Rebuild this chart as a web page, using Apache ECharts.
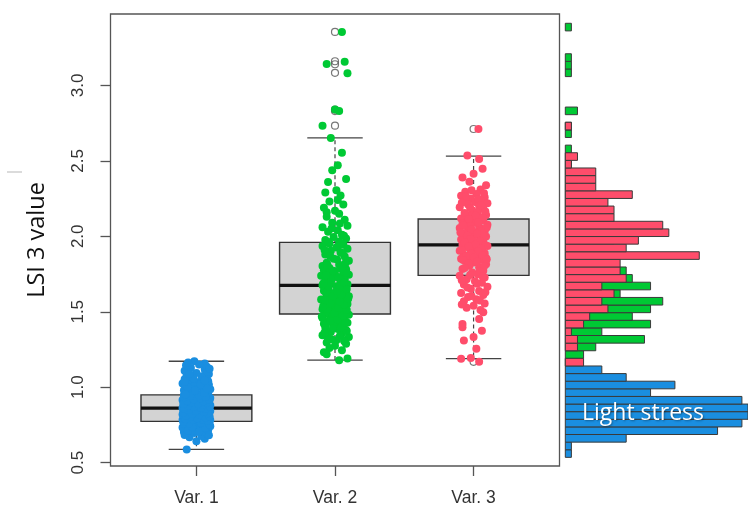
<!DOCTYPE html>
<html><head><meta charset="utf-8">
<script src="https://cdn.jsdelivr.net/npm/echarts@6/dist/echarts.min.js"></script>
<style>html,body{margin:0;padding:0;background:#fff}#c{width:748px;height:507px}</style>
</head><body><div id="c"></div>
<script>
const categories = ['Var. 1', 'Var. 2', 'Var. 3'];
const yTicks = [0.5, 1.0, 1.5, 2.0, 2.5, 3.0];
const yTickLabels = ['0.5', '1.0', '1.5', '2.0', '2.5', '3.0'];
const groupColors = ['#1a8ee0', '#00c934', '#ff4d6b'];

// [lower whisker, Q1, median, Q3, upper whisker]
const boxVar1 = [0.588, 0.774, 0.861, 0.949, 1.172];
const boxVar2 = [1.179, 1.485, 1.675, 1.960, 2.652];
const boxVar3 = [1.189, 1.741, 1.943, 2.115, 2.531];

const outVar2 = [3.354, 3.160, 3.140, 3.083, 2.840, 2.830, 2.733];
const outVar3 = [2.711, 1.168];

// jittered points: [jitter offset, value]
const var1Pts = [[-0.07,0.588],[0.06,0.658],[0.00,0.642],
[-0.05,0.668],[0.035,0.676],[-0.085,0.684],[0.075,0.692],[-0.015,0.697],[0.09,0.681],
[-0.09,0.703],[0.04,0.707],[-0.035,0.711],[0.085,0.716],[-0.07,0.719],[0.015,0.722],[0.07,0.726],[-0.01,0.729],[-0.1,0.733],[0.05,0.736],[-0.05,0.739],[0.1,0.742],[0.025,0.744],[-0.075,0.747],[0.0,0.749],
[0.075,0.752],[-0.025,0.755],[-0.09,0.757],[0.04,0.760],[0.09,0.763],[-0.06,0.766],[0.01,0.768],[-0.085,0.771],[0.06,0.774],[-0.04,0.777],[0.025,0.779],[0.1,0.782],[-0.1,0.785],[-0.01,0.788],[0.05,0.791],[-0.07,0.793],[0.085,0.796],[-0.035,0.798],
[0.015,0.801],[-0.085,0.804],[0.07,0.806],[-0.05,0.809],[0.09,0.812],[-0.015,0.815],[0.035,0.817],[-0.1,0.820],[0.06,0.823],[-0.07,0.826],[0.0,0.828],[0.085,0.831],[-0.035,0.834],[0.04,0.837],[-0.09,0.840],[0.1,0.843],[-0.06,0.846],[0.025,0.848],
[-0.075,0.851],[0.075,0.853],[-0.01,0.856],[0.05,0.859],[-0.1,0.862],[0.09,0.864],[-0.04,0.867],[0.015,0.870],[-0.07,0.873],[0.07,0.876],[-0.025,0.878],[0.1,0.881],[-0.085,0.884],[0.035,0.887],[-0.05,0.890],[0.085,0.892],[0.0,0.895],[-0.09,0.898],
[0.06,0.901],[-0.035,0.903],[0.09,0.906],[-0.075,0.909],[0.01,0.912],[-0.1,0.915],[0.04,0.917],[-0.05,0.920],[0.075,0.923],[-0.015,0.926],[0.1,0.929],[-0.085,0.931],[0.025,0.934],[-0.06,0.937],[0.07,0.940],[-0.01,0.943],[0.085,0.945],[-0.09,0.948],
[0.035,0.953],[-0.07,0.958],[0.085,0.963],[-0.025,0.969],[0.05,0.974],[-0.09,0.980],[0.1,0.986],[0.0,0.991],[-0.05,0.997],
[0.07,1.003],[-0.075,1.007],[0.015,1.012],[0.09,1.016],[-0.04,1.021],[-0.1,1.025],[0.05,1.030],[-0.01,1.034],[0.085,1.039],[-0.06,1.043],[0.035,1.048],
[-0.085,1.053],[0.075,1.060],[-0.025,1.066],[0.04,1.073],[-0.07,1.080],[0.09,1.087],[0.0,1.094],
[-0.085,1.109],[0.06,1.118],[-0.04,1.127],[0.075,1.136],[-0.075,1.145],
[0.06,1.157],[-0.015,1.172],
[0.02,0.705],[-0.06,0.713],[0.065,0.731],[-0.03,0.737],[0.095,0.751],[-0.055,0.759],[0.03,0.765],[-0.095,0.770],[0.08,0.778],[-0.02,0.783],[0.045,0.786],[-0.08,0.790],[0.005,0.795],[0.065,0.799],[-0.045,0.803],[0.095,0.808],[-0.075,0.813],[0.02,0.819],[-0.03,0.825],[0.08,0.827],[-0.095,0.832],[0.055,0.839],[-0.005,0.842],[-0.055,0.849],[0.065,0.855],[-0.09,0.858],[0.03,0.863],[-0.02,0.869],[0.095,0.872],[-0.06,0.877],[0.045,0.882],[-0.095,0.888],[0.01,0.891],[0.075,0.897],[-0.04,0.900],[0.05,0.907],[-0.065,0.911],[0.095,0.916],[-0.02,0.921],[0.03,0.927],[-0.09,0.933],[0.065,0.936],[-0.045,0.942],[0.02,0.947],[-0.08,0.952],[0.055,0.961],[-0.01,0.978],[0.075,0.993],[-0.065,1.001],[0.03,1.019],[-0.085,1.037],[0.06,1.045],[-0.02,1.057],[0.08,1.102],[-0.05,1.088],[0.095,1.122],[0.02,1.150],[-0.06,1.163]];

const var2Pts = [[0.05,3.354],[-0.06,3.142],[0.07,3.157],[0.09,3.080],[0.0,2.840],[0.03,2.830],[-0.09,2.733],
[-0.03,2.652],[0.05,2.553],[0.02,2.470],[-0.02,2.437],[0.08,2.380],[-0.05,2.360],[0.01,2.305],[-0.07,2.290],[0.04,2.270],[-0.04,2.230],[0.06,2.210],[-0.08,2.190],[0.0,2.170],[0.03,2.150],[-0.06,2.130],[0.07,2.110],[-0.02,2.090],[0.09,2.070],[-0.09,2.060],[0.02,2.040],[-0.05,2.030],[0.05,2.010],[-0.01,1.995],[0.08,1.985],[-0.07,1.975],[0.03,1.965],
[-0.04,1.952],[0.06,1.944],[-0.09,1.935],[0.01,1.926],[0.09,1.917],[-0.03,1.905],[0.04,1.893],[-0.07,1.880],[0.07,1.866],[-0.01,1.852],[0.1,1.838],[-0.06,1.825],[0.03,1.812],[-0.09,1.803],
[0.05,1.797],[-0.04,1.790],[0.08,1.782],[-0.08,1.775],[0.0,1.768],[0.06,1.760],[-0.05,1.752],[0.1,1.745],[-0.1,1.738],[0.02,1.731],[-0.02,1.723],[0.07,1.715],[-0.07,1.707],[0.04,1.699],[-0.03,1.691],[0.09,1.683],[-0.09,1.676],[0.01,1.669],[0.06,1.661],[-0.05,1.654],
[0.03,1.646],[-0.08,1.639],[0.08,1.632],[-0.01,1.625],[0.05,1.617],[-0.06,1.610],[0.1,1.602],[-0.03,1.595],[0.02,1.588],[-0.1,1.581],[0.07,1.574],[-0.05,1.566],[0.0,1.559],[0.09,1.552],[-0.07,1.545],[0.04,1.538],[-0.02,1.531],[0.06,1.523],[-0.09,1.516],[0.01,1.509],[0.08,1.503],[-0.04,1.500],
[0.05,1.494],[-0.06,1.487],[0.1,1.480],[-0.02,1.472],[0.03,1.465],[-0.09,1.458],[0.07,1.450],[-0.04,1.443],[0.0,1.436],[0.09,1.428],[-0.08,1.421],[0.04,1.414],[-0.01,1.407],[0.06,1.401],
[-0.07,1.395],[0.02,1.386],[0.08,1.377],[-0.03,1.366],[0.05,1.355],[-0.09,1.344],[0.1,1.333],[-0.05,1.322],[0.01,1.312],[0.07,1.303],
[-0.06,1.296],[0.08,1.288],[0.0,1.275],[-0.04,1.260],[0.05,1.245],[-0.08,1.232],[-0.06,1.218],[0.09,1.190],[0.03,1.179],
[0.065,1.308],[-0.025,1.318],[0.035,1.339],[-0.075,1.362],[0.085,1.372],[-0.015,1.389],[0.045,1.398],[-0.065,1.412],[0.075,1.425],[-0.035,1.439],[0.015,1.447],[-0.095,1.468],[0.055,1.476],[-0.005,1.491],[0.085,1.512],[-0.055,1.520],[0.025,1.527],[-0.085,1.536],[0.065,1.548],[-0.035,1.556],[0.035,1.570],[-0.075,1.578],[0.095,1.586],[-0.015,1.605],[0.045,1.613],[-0.065,1.628],[0.015,1.637],[0.085,1.650],[-0.045,1.665],[0.035,1.673],[-0.085,1.688],[0.065,1.695],[-0.025,1.712],[0.025,1.727],[-0.065,1.742],[0.085,1.757],[-0.015,1.771],[0.045,1.786],[-0.055,1.810],[0.075,1.822],[0.015,1.847],[-0.035,1.870],[0.055,1.889],[-0.075,1.910],[0.025,1.938],[-0.045,1.962],[0.065,2.003],[-0.025,2.052],[0.035,2.085],[-0.06,2.160],[0.02,2.240]];

const var3Pts = [[0.035,2.711],
[-0.045,2.535],[0.04,2.513],[0.065,2.448],[-0.08,2.390],[0.0,2.415],[0.09,2.338],[-0.03,2.362],[0.05,2.310],[-0.06,2.295],[0.02,2.280],[-0.09,2.268],[0.08,2.258],[-0.02,2.250],
[0.06,2.243],[-0.07,2.236],[0.01,2.228],[0.1,2.219],[-0.04,2.210],[0.04,2.201],[-0.1,2.192],[0.07,2.183],[-0.01,2.172],[0.03,2.160],
[-0.06,2.148],[0.09,2.141],[-0.03,2.133],[0.05,2.126],[-0.09,2.118],[0.0,2.111],[0.07,2.104],[-0.05,2.097],[0.02,2.090],[-0.08,2.083],[0.1,2.076],[-0.02,2.069],[0.04,2.062],[-0.1,2.055],[0.06,2.048],[-0.04,2.041],[0.08,2.034],[0.01,2.027],[-0.07,2.020],[0.03,2.013],[-0.01,2.006],
[0.09,1.999],[-0.06,1.992],[0.05,1.985],[-0.09,1.978],[0.0,1.971],[0.07,1.964],[-0.03,1.957],[0.03,1.950],[-0.08,1.943],[0.1,1.936],[-0.05,1.929],[0.01,1.921],[0.06,1.913],[-0.1,1.905],[-0.02,1.896],[0.08,1.887],[-0.07,1.878],[0.04,1.870],[-0.04,1.863],[0.09,1.857],[-0.09,1.852],[0.02,1.855],
[0.06,1.845],[-0.06,1.836],[0.0,1.826],[0.09,1.815],[-0.03,1.805],[0.04,1.795],[-0.08,1.784],[0.07,1.772],[-0.01,1.760],[0.03,1.749],[-0.1,1.738],[0.08,1.727],[-0.05,1.715],[0.01,1.703],
[0.06,1.692],[-0.07,1.680],[0.1,1.666],[-0.02,1.652],[0.04,1.638],[-0.09,1.624],[0.07,1.611],[-0.04,1.597],[0.02,1.583],[-0.07,1.569],[0.08,1.554],[0.0,1.540],[-0.05,1.527],[0.05,1.512],
[0.07,1.496],[0.04,1.452],[-0.08,1.419],[-0.08,1.397],[0.06,1.375],[0.0,1.332],[-0.07,1.310],[0.02,1.255],[-0.09,1.189],[-0.02,1.194],[0.04,1.168],
[-0.015,2.305],[0.075,2.285],[-0.055,2.262],[0.035,2.247],[-0.085,2.222],[0.055,2.206],[-0.025,2.187],[0.085,2.165],[-0.065,2.155],[0.015,2.137],[0.065,2.122],[-0.035,2.114],[0.035,2.093],[-0.075,2.072],[0.095,2.058],[-0.015,2.045],[0.055,2.030],[-0.095,2.026],[0.025,2.017],[-0.045,2.003],[0.075,1.996],[-0.025,1.982],[0.045,1.967],[-0.065,1.961],[0.015,1.946],[0.085,1.940],[-0.035,1.933],[0.055,1.918],[-0.085,1.910],[0.035,1.901],[-0.015,1.884],[0.065,1.875],[-0.055,1.866],[0.005,1.860],[0.095,1.848],[-0.075,1.843],[0.025,1.831],[-0.035,1.820],[0.075,1.800],[-0.065,1.790],[0.045,1.766],[-0.025,1.744],[0.065,1.733],[-0.085,1.708],[0.025,1.686],[-0.045,1.660],[0.085,1.630],[-0.015,1.605],[0.045,1.575],[-0.085,1.548]];

// histogram: [bin start, count], bin width 0.05
const binWidth = 0.05;
const histVar1 = [[0.55,1],[0.60,1],[0.65,10],[0.70,25],[0.75,29],[0.80,30],[0.85,30],[0.90,29],[0.95,14],[1.00,18],[1.05,10],[1.10,6]];
const histVar2 = [[1.15,2],[1.20,3],[1.25,5],[1.30,13],[1.35,6],[1.40,14],[1.45,11],[1.50,14],[1.55,16],[1.60,9],[1.65,14],[1.70,11],[1.75,10],[1.80,8],[1.85,9],[1.90,6],[1.95,8],[2.00,9],[2.05,8],[2.10,5],[2.15,5],[2.20,4],[2.25,3],[2.30,2],[2.35,2],[2.40,1],[2.45,1],[2.50,1],[2.55,1],[2.65,1],[2.70,1],[2.80,2],[3.05,1],[3.10,1],[3.15,1],[3.35,1]];
const histVar3 = [[1.15,3],[1.25,2],[1.30,2],[1.35,1],[1.40,3],[1.45,4],[1.50,7],[1.55,6],[1.60,8],[1.65,6],[1.70,10],[1.75,9],[1.80,9],[1.85,22],[1.90,10],[1.95,12],[2.00,17],[2.05,16],[2.10,8],[2.15,8],[2.20,7],[2.25,11],[2.30,5],[2.35,5],[2.40,5],[2.45,1],[2.50,2],[2.70,1]];

const chart = echarts.init(document.getElementById('c'), null, {renderer: 'canvas'});
const boxes = [boxVar1, boxVar2, boxVar3].map((b, i) => [i + 1].concat(b));
const outData = [];
outVar2.forEach(v => outData.push([2, v]));
outVar3.forEach(v => outData.push([3, v]));

function boxRender(params, api) {
  const x = api.value(0);
  const lo = api.value(1), q1 = api.value(2), md = api.value(3), q3 = api.value(4), hi = api.value(5);
  const hw = 0.4, cw = 0.2;
  const L = api.coord([x - hw, q3]), R = api.coord([x + hw, q1]);
  const cL = api.coord([x - cw, hi])[0], cR = api.coord([x + cw, hi])[0];
  const cx = api.coord([x, md])[0];
  const yHi = api.coord([x, hi])[1], yLo = api.coord([x, lo])[1];
  const yQ1 = api.coord([x, q1])[1], yQ3 = api.coord([x, q3])[1], yMd = api.coord([x, md])[1];
  const wStyle = {stroke: '#444', lineWidth: 1.2, lineDash: [4, 3]};
  const cStyle = {stroke: '#444', lineWidth: 1.3};
  return {type: 'group', children: [
    {type: 'line', shape: {x1: cx, y1: yQ3, x2: cx, y2: yHi}, style: wStyle},
    {type: 'line', shape: {x1: cx, y1: yQ1, x2: cx, y2: yLo}, style: wStyle},
    {type: 'line', shape: {x1: cL, y1: yHi, x2: cR, y2: yHi}, style: cStyle},
    {type: 'line', shape: {x1: cL, y1: yLo, x2: cR, y2: yLo}, style: cStyle},
    {type: 'rect', shape: {x: L[0], y: L[1], width: R[0] - L[0], height: R[1] - L[1]}, style: {fill: '#d3d3d3', stroke: '#333', lineWidth: 1.4}},
    {type: 'line', shape: {x1: L[0], y1: yMd, x2: R[0], y2: yMd}, style: {stroke: '#111', lineWidth: 3.2}}
  ]};
}

function histRenderer(color) {
  return function (params, api) {
    const lo = api.value(0), cnt = api.value(1);
    const p0 = api.coord([0, lo + binWidth]);
    const p1 = api.coord([cnt, lo]);
    return {type: 'rect', shape: {x: p0[0], y: p0[1], width: p1[0] - p0[0], height: p1[1] - p0[1]},
      style: {fill: color, stroke: '#3a3a3a', lineWidth: 1}};
  };
}

const ptsSeries = [var1Pts, var2Pts, var3Pts].map((pts, i) => ({
  type: 'scatter', xAxisIndex: 0, yAxisIndex: 0, z: 5,
  symbol: 'circle', symbolSize: 8,
  itemStyle: {color: groupColors[i], opacity: 1},
  data: pts.map(p => [i + 1 + p[0], p[1]])
}));

chart.setOption({
  animation: false,
  backgroundColor: '#fff',
  grid: [
    {left: 110.5, top: 14, width: 449, height: 456, show: true, borderColor: '#555', borderWidth: 1.3, backgroundColor: 'transparent'},
    {left: 565.3, top: 14, width: 193.5, height: 456, show: false}
  ],
  xAxis: [
    {type: 'value', gridIndex: 0, min: 0.38, max: 3.62, splitLine: {show: false}, axisLine: {show: false},
     axisTick: {show: true, customValues: [1, 2, 3], length: 10, lineStyle: {color: '#555', width: 1.3}},
     axisLabel: {customValues: [1, 2, 3], formatter: v => categories[Math.round(v) - 1], margin: 23, fontSize: 17.5, color: '#333', fontFamily: 'Liberation Sans, Arial, sans-serif'}},
    {type: 'value', gridIndex: 1, min: 0, max: 30, show: false}
  ],
  yAxis: [
    {type: 'value', gridIndex: 0, min: 0.478, max: 3.473, splitLine: {show: false}, axisLine: {show: false},
     axisTick: {show: true, customValues: yTicks, length: 10, lineStyle: {color: '#555', width: 1.3}},
     axisLabel: {customValues: yTicks, rotate: 90, margin: 24, fontSize: 17, color: '#333', fontFamily: 'Liberation Sans, Arial, sans-serif',
       formatter: v => yTickLabels[yTicks.findIndex(t => Math.abs(t - v) < 1e-6)]},
     name: 'LSI 3 value', nameLocation: 'middle', nameRotate: 90, nameGap: 61,
     nameTextStyle: {fontSize: 23.5, color: '#111', fontFamily: 'Open Sans, Noto Sans, sans-serif'}},
    {type: 'value', gridIndex: 1, min: 0.467, max: 3.461, show: false}
  ],
  graphic: [
    {type: 'line', shape: {x1: 7, y1: 172, x2: 22, y2: 172}, style: {stroke: '#cfcfcf', lineWidth: 1.5}},
    {type: 'text', x: 643, y: 413, z: 100, style: {text: 'Light stress', fill: '#fff', fontSize: 23, fontFamily: 'Open Sans, Noto Sans, sans-serif',
      align: 'center', verticalAlign: 'middle', textShadowColor: 'rgba(0,0,0,0.35)', textShadowBlur: 2, textShadowOffsetX: 1, textShadowOffsetY: 1}}
  ],
  series: [
    {type: 'custom', xAxisIndex: 0, yAxisIndex: 0, z: 2, renderItem: boxRender, data: boxes},
    {type: 'scatter', xAxisIndex: 0, yAxisIndex: 0, z: 3, symbol: 'circle', symbolSize: 7,
     itemStyle: {color: 'rgba(0,0,0,0)', borderColor: '#555', borderWidth: 1.2}, data: outData},
    ...ptsSeries,
    {type: 'custom', xAxisIndex: 1, yAxisIndex: 1, z: 2, renderItem: histRenderer(groupColors[1]), data: histVar2},
    {type: 'custom', xAxisIndex: 1, yAxisIndex: 1, z: 3, renderItem: histRenderer(groupColors[0]), data: histVar1},
    {type: 'custom', xAxisIndex: 1, yAxisIndex: 1, z: 4, renderItem: histRenderer(groupColors[2]), data: histVar3}
  ]
});
</script></body></html>
